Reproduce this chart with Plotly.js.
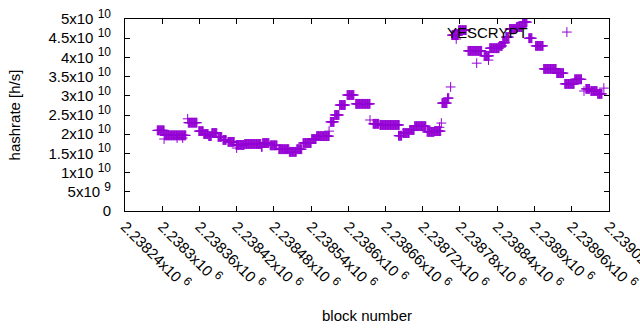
<!DOCTYPE html>
<html>
<head>
<meta charset="utf-8">
<script src="https://cdn.plot.ly/plotly-3.0.1.min.js"></script>
<style>html,body{margin:0;padding:0;background:#fff;}#chart{width:640px;height:330px;}</style>
</head>
<body>
<div id="chart"></div>
<script>
// Runs of blocks sharing the same hashrate estimate (block start, block end, hashrate h/s)
const runStart = [2238292,2238303,2238304,2238324,2238333,2238341,2238342,2238359,2238367,2238375,2238380,2238390,2238398,2238406,2238419,2238420,2238433,2238460,2238462,2238474,2238488,2238505,2238517,2238527,2238541,2238549,2238569,2238571,2238578,2238586,2238598,2238612,2238635,2238640,2238651,2238681,2238688,2238699,2238707,2238727,2238739,2238747,2238750,2238751,2238760,2238765,2238767,2238774,2238778,2238793,2238807,2238819,2238826,2238828,2238844,2238849,2238854,2238860,2238871,2238881,2238891,2238902,2238915,2238936,2238949,2238965,2238980,2238983,2238991,2239002,2239012];
const runEnd   = [2238303,2238303,2238338,2238324,2238333,2238341,2238356,2238366,2238374,2238379,2238388,2238396,2238403,2238416,2238432,2238420,2238459,2238461,2238472,2238485,2238504,2238516,2238525,2238540,2238548,2238569,2238569,2238577,2238585,2238595,2238609,2238635,2238635,2238649,2238682,2238686,2238698,2238706,2238725,2238738,2238749,2238747,2238750,2238759,2238762,2238765,2238777,2238774,2238790,2238815,2238807,2238827,2238826,2238843,2238848,2238853,2238859,2238870,2238880,2238888,2238896,2238914,2238935,2238947,2238964,2238976,2238980,2238989,2239001,2239009,2239012];
const runValue = [2.10e10,1.875e10,1.97e10,1.90e10,1.90e10,2.40e10,2.30e10,2.08e10,2.005e10,1.95e10,2.03e10,1.93e10,1.85e10,1.80e10,1.72e10,1.64e10,1.745e10,1.67e10,1.77e10,1.71e10,1.61e10,1.54e10,1.61e10,1.77e10,1.875e10,1.95e10,2.08e10,2.32e10,2.50e10,2.76e10,3.02e10,2.79e10,2.37e10,2.27e10,2.24e10,1.96e10,2.03e10,2.11e10,2.21e10,2.06e10,2.08e10,2.18e10,2.29e10,2.81e10,2.94e10,3.23e10,4.58e10,4.48e10,4.71e10,4.17e10,3.85e10,4.04e10,3.93e10,4.24e10,4.30e10,4.38e10,4.53e10,4.74e10,4.79e10,4.92e10,4.50e10,4.30e10,3.70e10,3.59e10,3.31e10,3.43e10,3.125e10,3.18e10,3.125e10,3.05e10,3.20e10];

const seriesName = "YESCRYPT";
const xTickVals = [2238240,2238300,2238360,2238420,2238480,2238540,2238600,2238660,2238720,2238780,2238840,2238900,2238960,2239020];
const xTickMant = ["2.23824","2.2383","2.23836","2.23842","2.23848","2.23854","2.2386","2.23866","2.23872","2.23878","2.23884","2.2389","2.23896","2.23902"];
const yTickVals = [0,5e9,1e10,1.5e10,2e10,2.5e10,3e10,3.5e10,4e10,4.5e10,5e10];
const yTickMant = ["0","5","1","1.5","2","2.5","3","3.5","4","4.5","5"];
const yTickExp  = ["","9","10","10","10","10","10","10","10","10","10"];

const xs = [], ys = [];
for (let i = 0; i < runStart.length; i++) {
  for (let b = runStart[i]; b <= runEnd[i]; b++) { xs.push(b); ys.push(runValue[i]); }
}

const color = '#9400D3';
const font = {family: 'Liberation Sans, Arial, sans-serif', size: 15, color: '#000'};
const markerStyle = {symbol: 'cross-thin', size: 7, color: color, line: {color: color, width: 1}};
const sup = e => ' <sup><span style="font-size:12px">' + e + '</span></sup>';

const traces = [
  {x: xs, y: ys, type: 'scatter', mode: 'markers', marker: markerStyle, showlegend: false, hoverinfo: 'skip', cliponaxis: true},
  // key sample
  {x: [0.913], y: [0.932], xaxis: 'x2', yaxis: 'y2', type: 'scatter', mode: 'markers', marker: markerStyle, showlegend: false, hoverinfo: 'skip'}
];

const layout = {
  width: 640, height: 330,
  margin: {l: 125, r: 31, t: 19, b: 119},
  paper_bgcolor: '#fff', plot_bgcolor: '#fff',
  font: font,
  showlegend: false,
  xaxis: {
    range: [2238240, 2239020.3], tickmode: 'array', tickvals: xTickVals,
    ticktext: xTickMant.map(m => m + 'x10' + sup('6')),
    tickangle: 45, ticks: 'inside', ticklen: 5, tickcolor: '#000', ticklabeloverflow: 'allow',
    showline: true, linecolor: '#000', linewidth: 1, mirror: 'allticks',
    showgrid: false, zeroline: false, tickfont: font,
    title: {text: 'block number', font: font, standoff: 18}
  },
  yaxis: {
    range: [0, 5e10], tickmode: 'array', tickvals: yTickVals,
    ticktext: yTickMant.map((m, i) => yTickExp[i] ? m + 'x10' + sup(yTickExp[i]) : m),
    ticks: 'inside', ticklen: 5, tickcolor: '#000', ticklabelstandoff: 10,
    showline: true, linecolor: '#000', linewidth: 1, mirror: 'allticks',
    showgrid: false, zeroline: false, tickfont: font,
    title: {text: 'hashrate [h/s]', font: font, standoff: 24}
  },
  xaxis2: {range: [0, 1], overlaying: 'x', visible: false, fixedrange: true},
  yaxis2: {range: [0, 1], overlaying: 'y', visible: false, fixedrange: true},
  annotations: [{
    text: seriesName, xref: 'paper', yref: 'paper', x: 0.837, y: 0.932,
    xanchor: 'right', yanchor: 'middle', showarrow: false, font: font
  }]
};

Plotly.newPlot('chart', traces, layout, {staticPlot: true, displayModeBar: false});
</script>
</body>
</html>
